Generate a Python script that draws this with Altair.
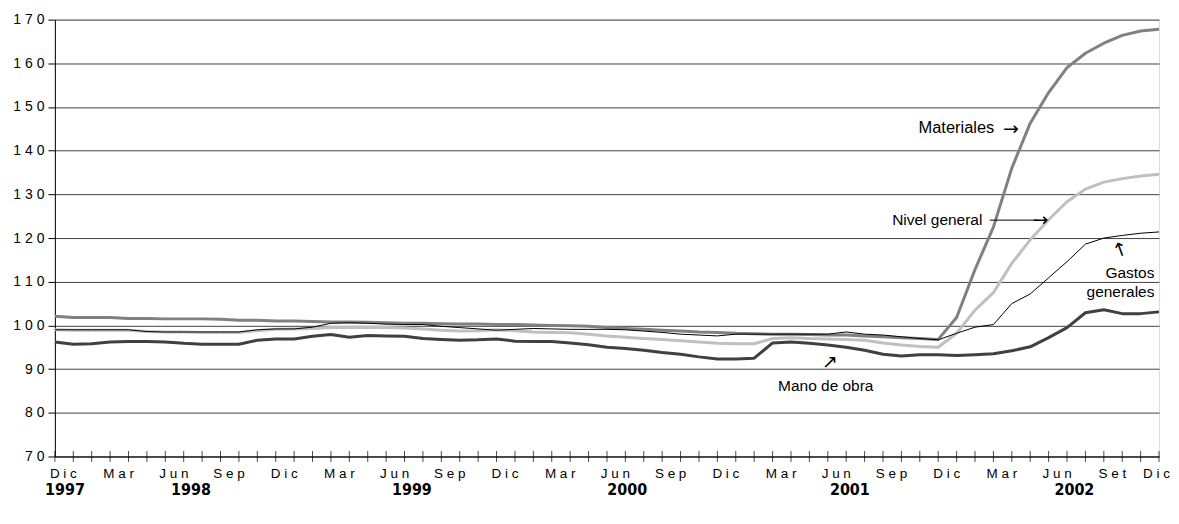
import altair as alt
import pandas as pd

# ---------------- data ----------------
months = pd.date_range("1997-12-01", "2002-12-01", freq="MS")
t_index = list(range(len(months)))  # 0 = Dic 1997 ... 60 = Dic 2002

materiales = [102.1, 101.8, 101.8, 101.8, 101.6, 101.6, 101.5, 101.5, 101.5, 101.4,
              101.2, 101.2, 101.0, 101.0, 100.9, 100.8, 100.8, 100.7, 100.6, 100.5,
              100.5, 100.4, 100.3, 100.3, 100.2, 100.2, 100.1, 100.0, 99.9, 99.8,
              99.5, 99.3, 99.1, 98.9, 98.7, 98.5, 98.4, 98.2, 98.1, 98.0,
              98.0, 97.9, 97.8, 97.8, 97.6, 97.4, 97.2, 97.0, 96.8, 101.8,
              112.8, 122.5, 136.0, 146.3, 153.3, 159.0, 162.3, 164.6, 166.4, 167.4,
              167.8]
nivel_general = [99.0, 98.9, 98.9, 98.9, 98.9, 98.6, 98.5, 98.5, 98.4, 98.4,
                 98.4, 98.8, 99.1, 99.2, 99.3, 99.5, 99.5, 99.5, 99.5, 99.4,
                 99.2, 98.9, 98.7, 98.8, 99.0, 98.8, 98.5, 98.4, 98.3, 98.0,
                 97.6, 97.3, 97.0, 96.8, 96.5, 96.2, 95.9, 95.8, 95.8, 97.0,
                 97.2, 97.0, 96.9, 96.8, 96.6, 96.0, 95.5, 95.2, 95.0, 98.2,
                 103.5, 107.5, 114.2, 119.6, 124.2, 128.3, 131.2, 132.8, 133.6, 134.2,
                 134.6]
gastos_generales = [99.0, 99.0, 99.0, 99.0, 99.0, 98.6, 98.5, 98.5, 98.5, 98.5,
                    98.5, 99.0, 99.2, 99.2, 99.6, 100.5, 100.6, 100.5, 100.3, 100.2,
                    100.2, 99.8, 99.5, 99.2, 98.9, 99.1, 99.3, 99.2, 99.1, 99.1,
                    99.1, 99.0, 98.7, 98.4, 98.0, 97.8, 97.6, 98.0, 98.0, 98.0,
                    98.0, 98.0, 98.0, 98.5, 98.0, 97.8, 97.4, 97.0, 96.7, 98.2,
                    99.6, 100.2, 105.0, 107.2, 110.9, 114.6, 118.6, 120.0, 120.6, 121.1,
                    121.4]
mano_de_obra = [96.2, 95.7, 95.8, 96.2, 96.3, 96.3, 96.2, 95.9, 95.7, 95.7,
                95.7, 96.6, 96.9, 96.9, 97.5, 97.9, 97.3, 97.7, 97.6, 97.5,
                97.0, 96.8, 96.6, 96.7, 96.9, 96.4, 96.3, 96.3, 96.0, 95.6,
                95.0, 94.7, 94.3, 93.8, 93.4, 92.8, 92.3, 92.3, 92.5, 96.0,
                96.2, 95.9, 95.5, 95.0, 94.3, 93.4, 93.0, 93.3, 93.3, 93.1,
                93.3, 93.5, 94.2, 95.1, 97.2, 99.5, 102.9, 103.6, 102.7, 102.7,
                103.1]

month_labels = ["Dic", "Mar", "Jun", "Sep", "Dic", "Mar", "Jun", "Sep", "Dic", "Mar", "Jun",
                "Sep", "Dic", "Mar", "Jun", "Sep", "Dic", "Mar", "Jun", "Set", "Dic"]
year_labels = ["1997", "1998", "1999", "2000", "2001", "2002"]
year_at = [0.55, 7.4, 19.4, 31.1, 43.2, 55.4]

# annotations (text, month index, value)
ann_text = ["Materiales", "Nivel general", "Gastos", "generales", "Mano de obra"]
ann_t = [51.05, 50.4, 59.75, 59.75, 39.3]
ann_v = [145.1, 124.1, 112.0, 107.6, 86.2]
ann_align = ["right", "right", "right", "right", "left"]
ann_size = [16.5, 15.5, 15.5, 15.5, 15.5]

arrow_glyph = ["→", "→", "↑", "↗"]
arrow_t = [51.95, 53.55, 57.9, 42.1]
arrow_v = [145.0, 124.1, 117.2, 91.7]
arrow_angle = [0, 0, 340, 0]

# ---------------- chart ----------------
NB = "\u00a0"
W, H = 1107, 438
FONT = "Liberation Sans"

series = [
    ("Nivel general", nivel_general, "#c0c0c0", 3),
    ("Materiales", materiales, "#808080", 3),
    ("Mano de obra", mano_de_obra, "#404040", 3),
    ("Gastos generales", gastos_generales, "#000000", 1),
]

spaced = [NB.join(list(m)) for m in month_labels]
arr = "[" + ",".join("'" + s + "'" for s in spaced) + "]"
x_label_expr = f"{arr}[round(datum.value/3)]"

x_scale = alt.Scale(domain=[0, 60], nice=False, zero=False)
y_scale = alt.Scale(domain=[70, 170], nice=False, zero=False)

x_axis = alt.Axis(values=list(range(0, 61, 3)), labelExpr=x_label_expr, ticks=False, grid=False,
                  domainColor="black", domainWidth=1, labelFont=FONT, labelFontSize=13.5,
                  labelColor="black", labelPadding=10, labelAngle=0, labelFlush=False,
                  labelOverlap=False, labelBound=False, title=None,
                  labelOffset={"condition": {"test": "datum.value == 60", "value": -3}, "value": 8})
y_axis = alt.Axis(values=list(range(70, 171, 10)),
                  labelExpr=f"join(split(datum.label, ''), '{NB}')",
                  grid=True, gridColor="#404040", gridWidth=1, domainColor="black",
                  tickColor="black", tickSize=7, labelPadding=4, labelFont=FONT,
                  labelFontSize=14, labelColor="black", title=None)


def X(field):
    return alt.X(field, scale=x_scale, axis=x_axis)


def Y(field):
    return alt.Y(field, scale=y_scale, axis=y_axis)


layers = []
for name, vals, col, sw in series:
    d = pd.DataFrame({"t": t_index, "valor": vals, "serie": name})
    layers.append(
        alt.Chart(d).mark_line(color=col, strokeWidth=sw, strokeJoin="round").encode(
            x=X("t:Q"), y=Y("valor:Q")
        )
    )

ticks = alt.Chart(pd.DataFrame({"t": t_index})).mark_tick(
    color="black", thickness=1, size=11
).encode(x=X("t:Q"), y=alt.value(H))

years = alt.Chart(pd.DataFrame({"y": year_labels, "t": year_at})).mark_text(
    font="Liberation Sans Narrow, DejaVu Sans Condensed, Liberation Sans", fontWeight="bold",
    fontSize=16, align="center", baseline="middle", color="black"
).encode(x=X("t:Q"), y=alt.value(H + 34), text="y:N")

ann_df = pd.DataFrame({"txt": ann_text, "t": ann_t, "v": ann_v, "al": ann_align, "s": ann_size})
ann_layers = []
for al in ["right", "left"]:
    ann_layers.append(
        alt.Chart(ann_df[ann_df.al == al]).mark_text(
            font=FONT, align=al, baseline="middle", color="black"
        ).encode(x=X("t:Q"), y=Y("v:Q"), text="txt:N", size=alt.Size("s:Q", scale=None))
    )

arr_df = pd.DataFrame({"g": arrow_glyph, "t": arrow_t, "v": arrow_v, "a": arrow_angle})
arrows = alt.Chart(arr_df).mark_text(
    font="DejaVu Sans", fontSize=19, align="center", baseline="middle", color="black"
).encode(x=X("t:Q"), y=Y("v:Q"), text="g:N", angle=alt.Angle("a:Q", scale=None))

long_arrow = alt.Chart(pd.DataFrame({"t1": [50.8], "t2": [53.4], "v": [124.1]})).mark_rule(
    color="black", strokeWidth=1
).encode(x=X("t1:Q"), x2="t2:Q", y=Y("v:Q"))

chart = alt.layer(*layers, ticks, years, *ann_layers, long_arrow, arrows).properties(
    width=W, height=H,
    autosize=alt.AutoSizeParams(type="none"),
    padding={"left": 47, "top": 11, "right": 12, "bottom": 50},
).configure_view(stroke="#808080", strokeWidth=1.5).configure(background="white")

chart.save("out.html", embed_options={"renderer": "svg", "actions": False})
